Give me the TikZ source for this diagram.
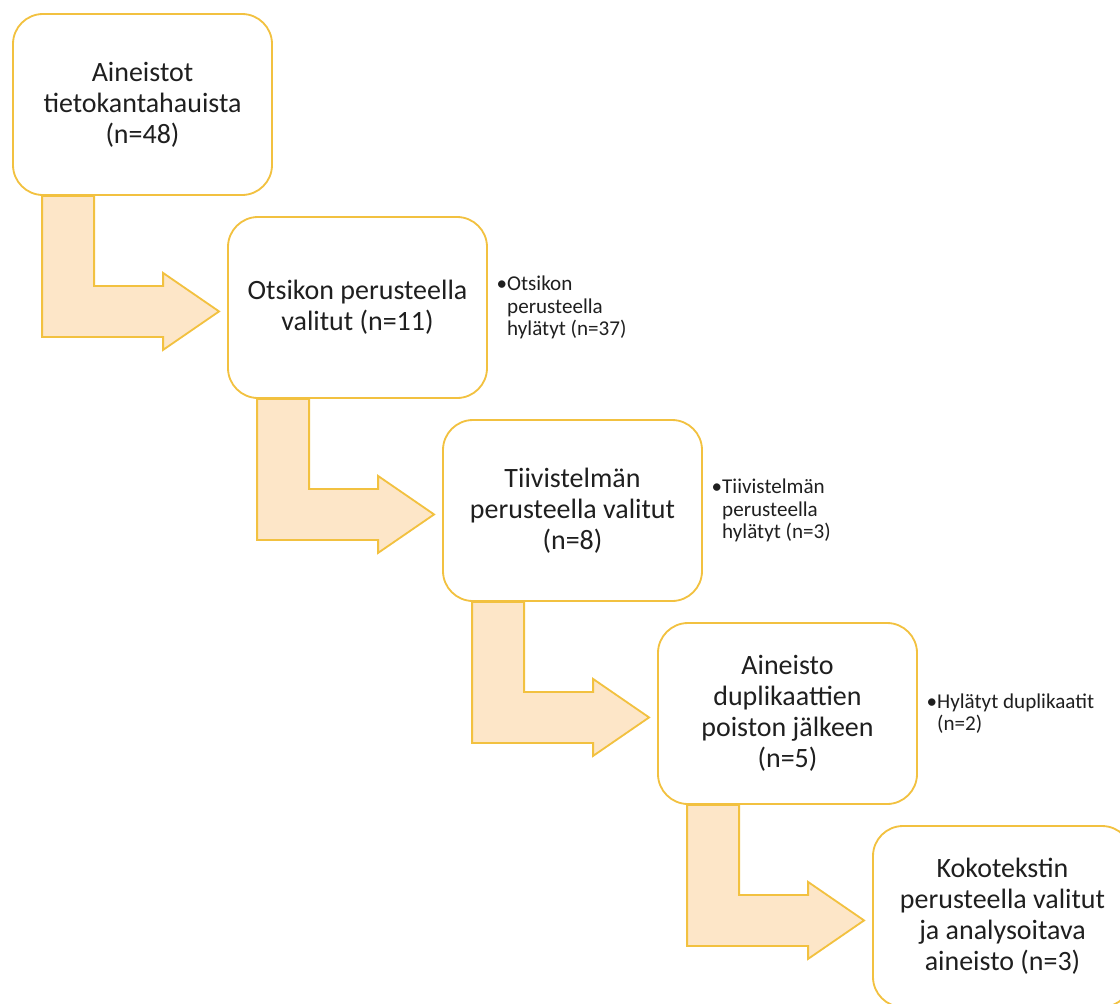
\documentclass[tikz,border=0pt]{standalone}
\usepackage{fontspec}
\setmainfont{Carlito}
\usepackage{tikz}
\definecolor{stepgold}{HTML}{F2C140}
\definecolor{stepfill}{HTML}{FDE6C8}
\definecolor{steptext}{HTML}{1F1F1F}

\begin{document}
\begin{tikzpicture}[
  box/.style  ={fill=white, draw=stepgold, line width=1.3pt,
                rounded corners=7.5mm, minimum width=6.475cm,
                minimum height=4.525cm, align=center, text=steptext,
                font=\fontsize{19.9}{22}\selectfont},
  note/.style ={anchor=west, align=left, inner sep=0pt, text=steptext,
                font=\fontsize{15}{16}\selectfont},
  bent/.style ={fill=stepfill, draw=stepgold, line width=1.3pt,
                line join=miter}
]
  \clip (0,0) rectangle (28,-25.075);

  \node[box] (b1) at ( 3.5625, -2.6125) {Aineistot\\tietokantahauista\\(n=48)};
  \node[box] (b2) at ( 8.9375, -7.6875) {Otsikon perusteella\\valitut (n=11)};
  \node[box] (b3) at (14.3125,-12.7625) {Tiivistelmän\\perusteella valitut\\(n=8)};
  \node[box] (b4) at (19.6875,-17.8375) {Aineisto\\duplikaattien\\poiston jälkeen\\(n=5)};
  \node[box] (b5) at (25.0625,-22.9125) {Kokotekstin\\perusteella valitut\\ja analysoitava\\aineisto (n=3)};

  % bent arrows between the steps
  \draw[bent] ([xshift=7.5mm]b1.south west) -- ++(1.3,0) -- ++(0,-2.25) -- ++(1.725,0) -- ++(0,0.325)
              -- ++(1.4,-0.9625) -- ++(-1.4,-0.9625) -- ++(0,0.325) -- ++(-3.025,0) -- cycle;
  \draw[bent] ([xshift=7.5mm]b2.south west) -- ++(1.3,0) -- ++(0,-2.25) -- ++(1.725,0) -- ++(0,0.325)
              -- ++(1.4,-0.9625) -- ++(-1.4,-0.9625) -- ++(0,0.325) -- ++(-3.025,0) -- cycle;
  \draw[bent] ([xshift=7.5mm]b3.south west) -- ++(1.3,0) -- ++(0,-2.25) -- ++(1.725,0) -- ++(0,0.325)
              -- ++(1.4,-0.9625) -- ++(-1.4,-0.9625) -- ++(0,0.325) -- ++(-3.025,0) -- cycle;
  \draw[bent] ([xshift=7.5mm]b4.south west) -- ++(1.3,0) -- ++(0,-2.25) -- ++(1.725,0) -- ++(0,0.325)
              -- ++(1.4,-0.9625) -- ++(-1.4,-0.9625) -- ++(0,0.325) -- ++(-3.025,0) -- cycle;

  % rejected counts
  \node[note] (n2) at ([xshift=4.75mm]b2.east) {\llap{\textbullet}Otsikon\\perusteella\\hylätyt (n=37)};
  \node[note] (n3) at ([xshift=4.75mm]b3.east) {\llap{\textbullet}Tiivistelmän\\perusteella\\hylätyt (n=3)};
  \node[note] (n4) at ([xshift=4.75mm]b4.east) {\llap{\textbullet}Hylätyt duplikaatit\\(n=2)};
\end{tikzpicture}
\end{document}
